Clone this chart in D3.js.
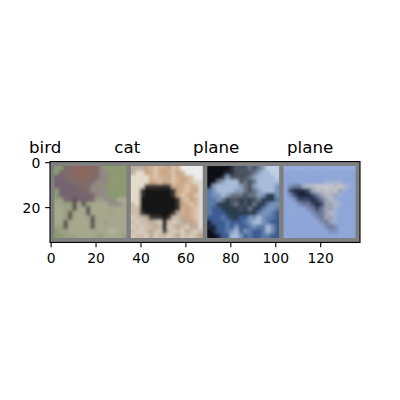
<!DOCTYPE html>
<html>
<head>
<meta charset="utf-8">
<script src="https://cdn.jsdelivr.net/npm/d3@7"></script>
<style>
  body { margin: 0; background: #fff; }
  text { font-family: "DejaVu Sans", sans-serif; }
</style>
</head>
<body>
<svg id="chart" width="400" height="400"></svg>
<script>
// image grid: 4 images of 32x32 with 2px padding -> 138 x 36
var labels = ["bird", "cat", "plane", "plane"];
var labelGaps = [10, 10, 9]; // spaces between the labels in the title
var xTicks = [0, 20, 40, 60, 80, 100, 120];
var yTicks = [0, 20];
var padColor = "#7f7f7f";

// each image read as 16x16 cells (one cell = 2x2 source pixels), letters index a palette
var birdPalette = {a:"#8c9a70", b:"#96a078", c:"#746470", d:"#806a6a", e:"#8a6860", f:"#928884",
  g:"#928e88", h:"#aca79f", i:"#5e5450", j:"#a6a88e", k:"#9aa084", l:"#b2b49c"};
var birdRows = [
  "aacdeeeeedfaaaaa",
  "acddeeeeedffaaaa",
  "ccdddeeeddffaaaa",
  "cccddddddfffaaaa",
  "cccccdddfffaaaaa",
  "acccccddffggaaaa",
  "acccccccdffgaaaa",
  "kkccicccdkkggahh",
  "jkkkijikjjjjgggj",
  "jjkkijjijjjjjjjj",
  "jjkijjjijjjjkjjj",
  "jjkijjjjijjjjjjj",
  "jjijjjjjijjkjjjj",
  "kkijjjjjijjjjjjj",
  "akkjjjjjjjjjlljj",
  "aakkkjjjjkkjjjjk"
];
var catPalette = {a:"#bcaea0", b:"#e2dcc8", c:"#d0b092", d:"#c4a486", e:"#dcc4aa", f:"#ececec",
  g:"#141414", h:"#3a3634", i:"#cbbcaa", j:"#d8ccbc", k:"#b8a898", l:"#dcd8d4"};
var catRows = [
  "aaadceccdecfffff",
  "abbdcecdcedcffff",
  "bbbbceccdecdceff",
  "bbbbdcedcecdcell",
  "bbbhhhhhhcdceccl",
  "bbhgggggghdcecdl",
  "bbhgggggghdecdel",
  "bbgggggggghcedcl",
  "ibgggggggghdcecl",
  "iigggggggghcdcel",
  "iihgggggghkcdcel",
  "jiikhhhghiikdcel",
  "ijiikijgijikkdcl",
  "jijiikigjikijkkl",
  "ijjikijhijijkiji",
  "jiijkjiijikjijik"
];
var plane1Palette = {a:"#0c1014", b:"#262c36", c:"#4a5260", d:"#6a7484", e:"#a8bcd8", f:"#c0d0e4",
  g:"#5a7aa8", h:"#2c3c50", i:"#3c5c90", j:"#7894bc", k:"#1c2840", l:"#8aa0bc"};
var plane1Rows = [
  "aaaaabcccdcdlfff",
  "aaaabbccccdleeff",
  "aaablccccdleeeef",
  "aadleeecdcdeeeee",
  "aleeeeeldcleeeej",
  "gjeeeelldcdleeej",
  "gjjeldddcddljhhj",
  "ggjdhcchchcdhhhg",
  "gghhhcdhchdhhgjj",
  "giihhhhchdhhgjjg",
  "giiihhhhhhhgjjgi",
  "iiigihhiijjejggi",
  "kiiigiiigjeejgii",
  "kkiigijiigjggeji",
  "akiigjeijgiigeji",
  "aakiieejigiiggii"
];
var plane2Palette = {a:"#8ea6d8", b:"#96addc", c:"#1e2640", d:"#3c4866", e:"#6a7898", f:"#b4b8c4",
  g:"#c4c6cc", h:"#9aa0b4", i:"#a0b0d4", j:"#7c8cb4"};
var plane2Rows = [
  "bbbbbbbbbbbbbbbb",
  "aaaaaaaaaaaaaaaa",
  "aaaaaaaaaaaaaaaa",
  "aaaaaaaaaiiiiaaa",
  "ajeeiffggggfgfia",
  "adcccdhffgfghiaa",
  "ajdcccdehffhiaaa",
  "aajdddcdehfiaaaa",
  "aaajeedcdhhfiaaa",
  "aaaaajedehhiaaaa",
  "aaaaaajeehfiaaaa",
  "aaaaaaajehhiaaaa",
  "aaaaaaaajehiaaaa",
  "aaaaaaaaajejaaaa",
  "aaaaaaaaaajjaaaa",
  "aaaaaaaaaaaaaaaa"
];
var images = [
  {rows: birdRows, pal: birdPalette},
  {rows: catRows, pal: catPalette},
  {rows: plane1Rows, pal: plane1Palette},
  {rows: plane2Rows, pal: plane2Palette}
];

var svg = d3.select("#chart");
var left = 50, right = 360;
var unit = (right - left) / 138;
var cy = 202, h = 36 * unit;
var x = d3.scaleLinear().domain([-0.5, 137.5]).range([left, right]);
var y = d3.scaleLinear().domain([-0.5, 35.5]).range([cy - h / 2, cy + h / 2]);

var defs = svg.append("defs");
var f = defs.append("filter").attr("id", "soft")
  .attr("x", "-10%").attr("y", "-10%").attr("width", "120%").attr("height", "120%");
f.append("feGaussianBlur").attr("stdDeviation", 1.8).attr("result", "b");
var ct = f.append("feComponentTransfer").attr("in", "b");
ct.append("feFuncA").attr("type", "linear").attr("slope", 0).attr("intercept", 1);

// padding background
svg.append("rect")
  .attr("x", x(-0.5)).attr("y", y(-0.5))
  .attr("width", x(137.5) - x(-0.5)).attr("height", y(35.5) - y(-0.5))
  .attr("fill", padColor);

var cell = 2;
images.forEach(function(img, i) {
  var off = 2 + i * 34;
  defs.append("clipPath").attr("id", "clip" + i)
    .append("rect")
    .attr("x", x(off - 0.5)).attr("y", y(1.5))
    .attr("width", x(off + 31.5) - x(off - 0.5)).attr("height", y(33.5) - y(1.5));
  var cells = [];
  img.rows.forEach(function(row, r) {
    row.split("").forEach(function(ch, k) { cells.push({r: r, k: k, c: img.pal[ch]}); });
  });
  svg.append("g").attr("clip-path", "url(#clip" + i + ")")
    .append("g").attr("filter", "url(#soft)")
    .selectAll("rect").data(cells).enter().append("rect")
    .attr("x", function(d) { return x(off + d.k * cell - 0.5); })
    .attr("y", function(d) { return y(2 + d.r * cell - 0.5); })
    .attr("width", x(cell) - x(0) + 0.3)
    .attr("height", y(cell) - y(0) + 0.3)
    .attr("fill", function(d) { return d.c; });
});

// frame
svg.append("rect")
  .attr("x", x(-0.5)).attr("y", y(-0.5))
  .attr("width", x(137.5) - x(-0.5)).attr("height", y(35.5) - y(-0.5))
  .attr("fill", "none").attr("stroke", "#000").attr("stroke-width", 1.1);

var tl = 4.86;
var bottom = y(35.5);
var ax = svg.append("g");
xTicks.forEach(function(t) {
  ax.append("line").attr("x1", x(t)).attr("x2", x(t))
    .attr("y1", bottom).attr("y2", bottom + tl)
    .attr("stroke", "#000").attr("stroke-width", 1.1);
  ax.append("text").attr("x", x(t)).attr("y", bottom + tl + 4.86 + 10.6)
    .attr("text-anchor", "middle").attr("font-size", "13.9px").text(t);
});
yTicks.forEach(function(t) {
  ax.append("line").attr("x1", left - tl).attr("x2", left)
    .attr("y1", y(t)).attr("y2", y(t))
    .attr("stroke", "#000").attr("stroke-width", 1.1);
  ax.append("text").attr("x", left - tl - 4.86).attr("y", y(t) + 5)
    .attr("text-anchor", "end").attr("font-size", "13.9px").text(t);
});

// title
var title = labels[0];
for (var n = 1; n < labels.length; n++) {
  title += " ".repeat(labelGaps[n - 1]) + labels[n];
}
svg.append("text")
  .attr("x", 29).attr("y", y(-0.5) - 9)
  .attr("font-size", "16.67px")
  .attr("xml:space", "preserve")
  .style("white-space", "pre")
  .text(title);
</script>
</body>
</html>
